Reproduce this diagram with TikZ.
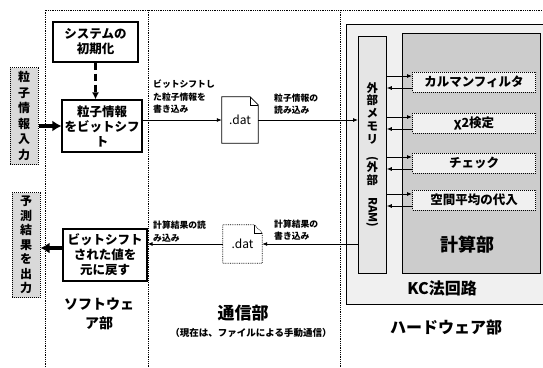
\documentclass[tikz,border=0pt]{standalone}
\usepackage{fontspec}
\setmainfont{Noto Sans CJK JP}
\usetikzlibrary{arrows.meta,calc}

\begin{document}
\begin{tikzpicture}[x=1pt, y=-1pt,
					every node/.style = {align=center, inner sep=0pt, font=\bfseries},
					box/.style = {draw, line width=1.2pt, fill=white,
						font=\bfseries\fontsize{12.5}{15}\selectfont},
					iobox/.style = {draw, densely dotted, line width=1pt, fill=gray!30,
						minimum width=28pt},
					subbox/.style = {draw, densely dotted, line width=1pt, fill=gray!12,
						minimum width=123pt, minimum height=20pt,
						font=\bfseries\fontsize{12.5}{15}\selectfont},
					datfile/.style = {font=\fontsize{12}{14}\selectfont},
					lbl/.style = {anchor=south west, align=left,
						font=\bfseries\fontsize{8.8}{12.5}\selectfont},
					title/.style = {font=\bfseries\fontsize{16}{20}\selectfont},
					divider/.style = {densely dotted, line width=0.8pt},
					arr/.style = {-{Latex[length=5pt,width=4pt]}, line width=0.8pt},
					bigarr/.style = {-{Latex[length=9pt,width=11pt]}, line width=4pt}]
	\useasboundingbox (0,0) rectangle (543,367);
	\clip (0,0) rectangle (543,367);

	% section dividers
	\draw[divider] (45,367) -- (45,10) -- (543,10);
	\draw[divider] (148,10) -- (148,367);
	\draw[divider] (340,10) -- (340,367);

	% hardware part
	\node[draw, line width=0.8pt, fill=gray!12, anchor=north west,
		minimum width=210pt, minimum height=280pt] (kc) at (346,24) {};
	\node[draw, line width=0.8pt, fill=gray!40, anchor=north west,
		minimum width=138pt, minimum height=240pt] (calc) at (402,33) {};
	\node[draw, line width=0.8pt, fill=gray!20, anchor=north west,
		minimum width=28pt, minimum height=237pt,
		font=\bfseries\fontsize{11.5}{12.8}\selectfont] (mem) at (358,36)
		{外\\部\\メ\\モ\\リ\\\rotatebox{-90}{(}\\外\\部\\\rotatebox{-90}{RAM)}};
	\foreach \n/\t/\y in {kalman/カルマンフィルタ/82, chi/χ2検定/123,
		check/チェック/163, avg/空間平均の代入/200}
		\node[subbox] (\n) at (474,\y) {\t};
	\foreach \n in {kalman,chi,check,avg} {
		\coordinate (up) at ($(\n.west)+(0,-6)$);
		\coordinate (dn) at ($(\n.west)+(0,6)$);
		\draw[arr] (up -| mem.east) -- (up);
		\draw[arr] (dn) -- (dn -| mem.east);
	}
	\node[font=\bfseries\fontsize{18}{20}\selectfont] (calclbl) at (467,245) {計算部};
	\node[title] (kclbl) at (442,288) {KC法回路};
	\node[title] (hwlbl) at (446,327) {ハードウェア部};

	% software part
	\node[iobox, minimum height=97pt, font=\bfseries\fontsize{12}{15.5}\selectfont]
		(inbox) at (24,116) {粒\\子\\情\\報\\入\\力};
	\node[iobox, minimum height=105pt, font=\bfseries\fontsize{12}{14.5}\selectfont]
		(outbox) at (26,245) {予\\測\\結\\果\\を\\出\\力};
	\node[box, minimum width=85pt, minimum height=40pt] (sysinit) at (95.5,42) {システムの\\初期化};
	\node[box, minimum width=80pt, minimum height=52pt] (shiftin) at (102,126)
		{粒子情報\\をビットシフ\\ト};
	\node[box, minimum width=84pt, minimum height=52pt] (shiftout) at (105,255)
		{ビットシフト\\された値を\\元に戻す};
	\draw[-{Latex[length=7pt,width=7pt]}, line width=2.5pt, dash pattern=on 7pt off 4pt]
		(sysinit.south) -- (sysinit.south |- shiftin.north);
	\draw[bigarr] (inbox.east |- shiftin.west) -- (shiftin.west);
	\coordinate (outarr) at ($(shiftout.west)+(0,-7)$);
	\draw[bigarr] (outarr) -- (outarr -| outbox.east);
	\node[font=\bfseries\fontsize{14}{18.5}\selectfont] (swlbl) at (99,314) {ソフトウェ\\ア部};

	% communication part
	\node[datfile, minimum width=36pt, minimum height=46pt] (dat1) at (240,120) {.dat};
	\draw[line width=0.8pt] (dat1.north west) -- ([xshift=-8pt]dat1.north east)
		-- ([yshift=-8pt]dat1.north east) -- (dat1.south east) -- (dat1.south west) -- cycle;
	\draw[line width=0.6pt] ([xshift=-8pt]dat1.north east) |- ([yshift=-8pt]dat1.north east);
	\node[datfile, minimum width=39pt, minimum height=38pt] (dat2) at (242.5,244) {.dat};
	\draw[line width=0.8pt, densely dotted] (dat2.north west) -- ([xshift=-8pt]dat2.north east)
		-- ([yshift=-8pt]dat2.north east) -- (dat2.south east) -- (dat2.south west) -- cycle;
	\draw[line width=0.6pt] ([xshift=-8pt]dat2.north east) |- ([yshift=-8pt]dat2.north east);

	\draw[arr] (shiftin.east |- dat1.west) -- (dat1.west);
	\draw[arr] (dat1.east) -- (dat1.east -| mem.west);
	\draw[arr] (mem.west |- dat2.east) -- (dat2.east);
	\draw[arr] (dat2.west) -- (dat2.west -| shiftout.east);
	\node[lbl] (wrlbl) at (153,114) {ビットシフトし\\た粒子情報を\\書き込み};
	\node[lbl] (rdlbl) at (274,115) {粒子情報の\\読み込み};
	\node[lbl] (resrd) at (153,242) {計算結果の読\\み込み};
	\node[lbl] (reswr) at (274,241) {計算結果の\\書き込み};
	\node[font=\bfseries\fontsize{17}{20}\selectfont] (comlbl) at (243,313) {通信部};
	\node[font=\bfseries\fontsize{9.5}{12}\selectfont] (comnote) at (251,333)
		{（現在は、ファイルによる手動通信）};
\end{tikzpicture}
\end{document}
